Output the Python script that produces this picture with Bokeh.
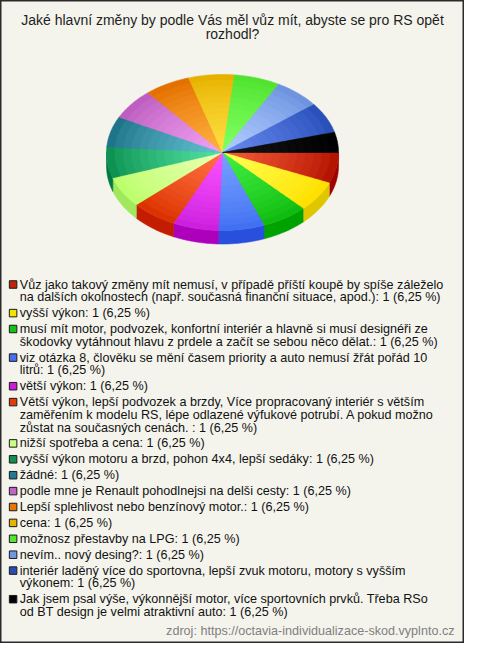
import numpy as np
from bokeh.plotting import figure
from bokeh.models import Range1d, ColumnDataSource
from bokeh.core.properties import value
from bokeh.embed import file_html
from bokeh.resources import INLINE

# ---------------- data ----------------
title_lines = ["Jaké hlavní změny by podle Vás měl vůz mít, abyste se pro RS opět",
               "rozhodl?"]

labels = [
    "Vůz jako takový změny mít nemusí, v případě příští koupě by spíše záleželo\nna dalších okolnostech (např. současná finanční situace, apod.)",
    "vyšší výkon",
    "musí mít motor, podvozek, konfortní interiér a hlavně si musí designéři ze\nškodovky vytáhnout hlavu z prdele a začít se sebou něco dělat.",
    "viz otázka 8, člověku se mění časem priority a auto nemusí žřát pořád 10\nlitrů",
    "větší výkon",
    "Větší výkon, lepší podvozek a brzdy, Více propracovaný interiér s větším\nzaměřením k modelu RS, lépe odlazené výfukové potrubí. A pokud možno\nzůstat na současných cenách. ",
    "nižší spotřeba a cena",
    "vyšší výkon motoru a brzd, pohon 4x4, lepší sedáky",
    "žádné",
    "podle mne je Renault pohodlnejsi na delši cesty",
    "Lepší splehlivost nebo benzínový motor.",
    "cena",
    "možnosz přestavby na LPG",
    "nevím.. nový desing?",
    "interiér laděný více do sportovna, lepší zvuk motoru, motory s vyšším\nvýkonem",
    "Jak jsem psal výše, výkonnější motor, více sportovních prvků. Třeba RSo\nod BT design je velmi atraktivní auto",
]
counts = [1, 1, 1, 1, 1, 1, 1, 1, 1, 1, 1, 1, 1, 1, 1, 1]

legend_colors = ["#c0250a", "#f5e400", "#14c314", "#4470f0", "#c81ed8", "#e43c06",
                 "#c8ff80", "#0f9050", "#217a92", "#c264c8", "#e67605", "#e8b400",
                 "#52e832", "#7298e2", "#2c4cb4", "#000000"]
rim_colors = ["#b41400", "#ffe000", "#10bc10", "#4270f2", "#cc20de", "#dc3200",
              "#bcff6c", "#0e9252", "#20748a", "#be5ec0", "#e47000", "#e6b200",
              "#50e430", "#6e94e0", "#2a50ba", "#000000"]
center_colors = ["#f45a38", "#ffff50", "#40ee40", "#74a0ff", "#fa50ff", "#ff7040",
                 "#e8ffb0", "#50e0a0", "#60c0d0", "#f0a0f2", "#ffb040", "#ffe040",
                 "#80ff60", "#b0ccff", "#6688ee", "#141414"]
side_colors = ["#a00000", "#e0c600", "#00a200", "#2850dc", "#ac00bc", "#c41c00",
               "#a0e85c", "#007a40", "#0a6078", "#a048a8", "#c05800", "#c09000",
               "#30c010", "#5078c0", "#1a38a0", "#000000"]

source_note = "zdroj: https://octavia-individualizace-skod.vyplnto.cz"

# ---------------- layout ----------------
W, H = 464, 643
BG = "#f4f4ed"
FONT = value("Liberation Sans")

p = figure(width=W, height=H, x_range=Range1d(0, W), y_range=Range1d(H, 0),
           output_backend="svg", toolbar_location=None, min_border=0, title=None)
p.axis.visible = False
p.grid.visible = False
p.background_fill_color = BG
p.border_fill_color = BG
p.outline_line_color = "#2a2a2a"
p.outline_line_width = 2

# title
p.text(x=[W / 2] * len(title_lines), y=[19.5, 33.5], text=title_lines,
       text_align="center", text_baseline="middle", text_font=FONT,
       text_font_size="14px", text_color="#1e1e1e")

# ---------------- 3D pie ----------------
cx, cy, rx, ry, depth = 222.0, 152.0, 116.0, 78.0, 13.5
total = float(sum(counts))
# renderer rounds each slice to whole degrees; last slice takes the remainder
deg = [int(np.floor(360.0 * c / total + 0.5)) for c in counts[:-1]]
deg.append(360 - sum(deg))
cum = np.radians(np.concatenate([[0.0], np.cumsum(deg)]))
starts, ends = cum[:-1], cum[1:]


def hex2rgb(h):
    h = h.lstrip("#")
    return np.array([int(h[i:i + 2], 16) for i in (0, 2, 4)], dtype=float)


def mix(c1, c2, t):
    c = hex2rgb(c1) * (1 - t) + hex2rgb(c2) * t
    return "#%02x%02x%02x" % tuple(int(round(v)) for v in c)


# side walls (front half only)
sx, sy, sc = [], [], []
for a0, a1, col in zip(starts, ends, side_colors):
    a, b = max(a0, 0.0), min(a1, np.pi)
    if b <= a:
        continue
    t = np.linspace(a, b, 24)
    xt = cx + rx * np.cos(t)
    yt = cy + ry * np.sin(t)
    sx.append(list(xt) + list(xt[::-1]))
    sy.append(list(yt) + list((yt + depth)[::-1]))
    sc.append(col)
p.patches(xs="xs", ys="ys", fill_color="c", line_color="c", line_width=0.6,
          source=ColumnDataSource(dict(xs=sx, ys=sy, c=sc)))

# top faces with radial shading
K = 14
tx, ty, tc = [], [], []
for k in range(K):
    f = 1.0 - k / K
    shade = (k / (K - 1)) ** 0.8
    for a0, a1, rc, cc in zip(starts, ends, rim_colors, center_colors):
        t = np.linspace(a0, a1, 24)
        tx.append([cx] + list(cx + f * rx * np.cos(t)))
        ty.append([cy] + list(cy + f * ry * np.sin(t)))
        tc.append(mix(rc, cc, shade))
p.patches(xs="xs", ys="ys", fill_color="c", line_color="c", line_width=0.6,
          source=ColumnDataSource(dict(xs=tx, ys=ty, c=tc)))

# ---------------- legend ----------------
pct = [c / total * 100 for c in counts]
lx, ly, lt = [], [], []
qx, qy, qc = [], [], []
y = 284.0
step_line, step_item = 12.7, 15.9
for lab, c, pc, col in zip(labels, counts, pct, legend_colors):
    full = lab + ": " + str(c) + " (" + ("%.2f" % pc).replace(".", ",") + " %)"
    lines = full.split("\n")
    qx.append(12.6)
    qy.append(y)
    qc.append(col)
    for j, line in enumerate(lines):
        lx.append(19.3)
        ly.append(y + j * step_line)
        lt.append(line)
    y += (len(lines) - 1) * step_line + step_item

p.rect(x="x", y="y", width=7.5, height=7.5, fill_color="c", line_color="#1a1a1a",
       line_width=1, source=ColumnDataSource(dict(x=qx, y=qy, c=qc)))
p.text(x="x", y="y", text="t", text_align="left", text_baseline="middle",
       text_font=FONT, text_font_size="12.6px", text_color="#111111",
       source=ColumnDataSource(dict(x=lx, y=ly, t=lt)))

# source note
p.text(x=[454.0], y=[630.5], text=[source_note], text_align="right",
       text_baseline="middle", text_font=FONT, text_font_size="12.6px",
       text_color="#808080")

open("out.html", "w").write(file_html(p, INLINE))
